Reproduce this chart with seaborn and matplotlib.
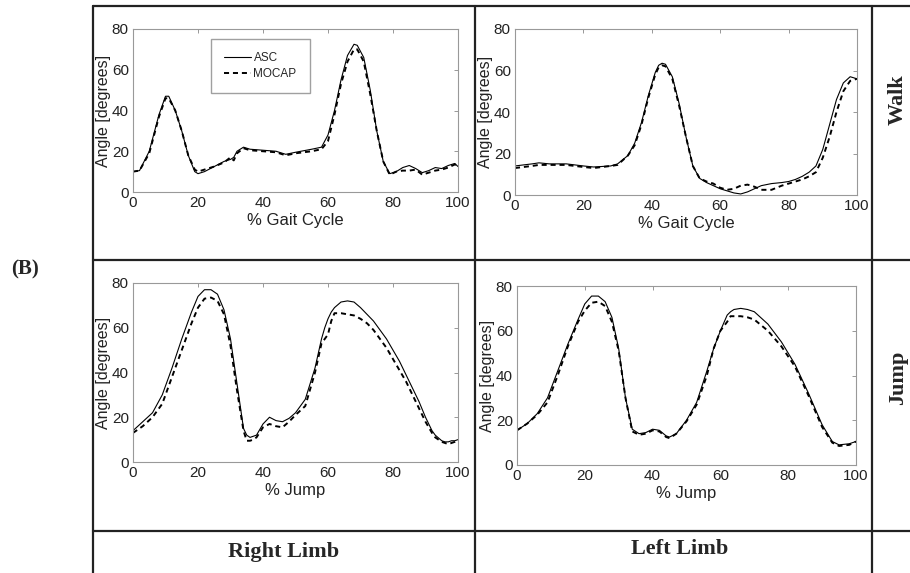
import matplotlib
matplotlib.use('Agg')
import matplotlib.pyplot as plt
import seaborn as sns
import numpy as np
import pandas as pd
from matplotlib.lines import Line2D

sns.set_style('white')
plt.rcParams['font.family'] = ['Liberation Sans Narrow', 'Liberation Sans', 'DejaVu Sans']

# Walk - Right limb
wr_x = [0, 2, 5, 8, 10, 11, 13, 15, 17, 19, 20, 22, 25, 28, 30, 31, 32, 34, 36, 40, 44, 47, 50, 55, 58,
        60, 62, 64, 66, 68, 69, 71, 73, 75, 77, 79, 81, 83, 85, 87, 89, 91, 93, 95, 97, 99, 100]
wr_asc = [10, 10.5, 20, 38, 47, 47, 40, 30, 18, 10, 9, 10, 12.5, 15, 16, 17, 20, 22, 21, 20.5, 20, 18.5, 19.5, 21, 22,
          28, 40, 55, 67, 72.5, 72, 66, 50, 30, 15, 9, 10, 12, 13, 11.5, 9.5, 10.5, 12, 11.5, 13, 14, 12.5]
wr_mocap = [10, 10.5, 19, 37, 46, 46, 40, 30, 18, 11, 10, 11, 12.5, 14.5, 17, 15.5, 19, 21.5, 20.5, 20, 19.5, 18, 19, 20, 21,
            25, 38, 53, 64, 70, 70, 64, 48, 30, 15, 8.5, 10, 10.5, 10.5, 11, 8.5, 9.5, 10.5, 11, 12, 13.5, 13]

# Walk - Left limb
wl_x = [0, 5, 7, 10, 15, 20, 23, 28, 30, 33, 35, 37, 39, 41, 42, 43, 44, 46, 48, 50, 52, 54, 56, 58, 60, 62, 64,
        66, 68, 70, 72, 75, 78, 80, 82, 84, 86, 88, 90, 92, 94, 96, 98, 100]
wl_asc = [14, 15, 15.5, 15, 15, 14, 13.5, 14, 15, 19, 25, 35, 48, 59, 62.5, 63.5, 63, 57, 44, 28, 14, 8, 6, 4.5, 3, 2, 1,
          0.5, 1.5, 3, 4.5, 5.5, 6, 6.5, 7.5, 9, 11, 14, 22, 34, 46, 54, 57, 56]
wl_mocap = [13, 14, 14.5, 14.5, 14.5, 13.5, 13, 14, 14.5, 19, 24, 34, 47, 58, 61.5, 62.5, 62, 56, 43, 28, 14, 8, 6.5, 5.5, 3.5, 2.5, 3,
            4.5, 5, 4, 2.5, 2.5, 4.5, 5.5, 6.5, 7.5, 9, 11, 18, 28, 40, 50, 55, 56]

# Jump - Right limb
jr_x = [0, 3, 6, 9, 12, 15, 18, 20, 22, 24, 26, 28, 30, 32, 34, 35, 36, 37, 38, 40, 42, 44, 46, 48, 50, 53, 56, 58, 59,
        60, 61, 62, 64, 66, 68, 70, 72, 74, 76, 78, 80, 82, 84, 86, 88, 90, 92, 93, 95, 96, 97, 98, 99, 100]
jr_asc = [14, 18, 22, 30, 42, 55, 67, 74, 77, 77, 75, 68, 55, 35, 15, 12, 11, 11.5, 12, 17, 20, 18.5, 18, 19.5, 22, 28, 42, 55, 60,
          64, 67, 69, 71.5, 72, 71.5, 69, 66, 63, 59, 55, 50, 45, 39, 33, 27, 20, 14, 12, 9.5, 9, 9, 9.5, 9.5, 10]
jr_mocap = [13, 16, 20, 26, 38, 50, 62, 69, 73, 73.5, 72, 66, 52, 32, 14, 9.5, 9.5, 10, 11, 15.5, 17, 16, 15.5, 18, 21, 25, 40, 53, 55,
            57, 63, 66.5, 66.5, 66, 65.5, 64, 62, 59, 55, 51, 46, 41, 36, 30, 24, 18, 13, 11, 9, 8.5, 8, 8.5, 9, 10]

# Jump - Left limb
jl_x = [0, 3, 6, 9, 12, 15, 18, 20, 22, 24, 26, 28, 30, 32, 34, 36, 38, 40, 42, 44, 45, 47, 50, 53, 56, 58, 60, 62, 63,
        64, 66, 68, 70, 74, 78, 82, 86, 90, 93, 95, 98, 100]
jl_asc = [15.5, 18.5, 23, 30, 42, 54, 65, 72, 75.5, 75.5, 73, 66, 52, 30, 16, 14, 14.5, 16, 15.5, 13, 12.5, 14, 20, 28, 42, 52, 60, 67, 68.5,
          69.5, 70, 69.5, 68.5, 63, 55, 45, 32, 18, 10.5, 9, 9.5, 10.5]
jl_mocap = [15.5, 18.5, 22.5, 28, 40, 53, 64, 69, 72.5, 73, 71, 64, 51, 30, 15, 13.5, 14, 15.5, 15, 12.5, 12, 14, 19.5, 27, 40, 52, 60, 64, 66.5,
            66.5, 66.5, 66, 65, 60, 53, 44, 31, 17, 10, 8.5, 9, 10.5]

W, H = 910, 573
fig = plt.figure(figsize=(W / 100, H / 100), dpi=100)


def frac(x0, y0, x1, y1):
    # pixel box (top-left origin) -> figure fraction rect
    return [x0 / W, 1 - y1 / H, (x1 - x0) / W, (y1 - y0) / H]


def panel(rect, x, asc, mocap, xlabel, legend=False):
    ax = fig.add_axes(rect)
    df = pd.DataFrame({'x': x, 'ASC': asc, 'MOCAP': mocap})
    sns.lineplot(data=df, x='x', y='ASC', ax=ax, color='black', lw=0.8, label='ASC')
    sns.lineplot(data=df, x='x', y='MOCAP', ax=ax, color='black', lw=1.4, ls=(0, (2.6, 2)), label='MOCAP')
    ax.set_xlim(0, 100)
    ax.set_ylim(0, 80)
    ax.set_xticks([0, 20, 40, 60, 80, 100])
    ax.set_yticks([0, 20, 40, 60, 80])
    ax.tick_params(direction='in', length=3, width=0.6, color='#888888', labelsize=11,
                   top=True, right=True, pad=3, labelcolor='#222222')
    for s in ax.spines.values():
        s.set_color('#999999')
        s.set_linewidth(0.8)
    ax.set_xlabel(xlabel, fontsize=12, labelpad=2, color='#222222')
    ax.set_ylabel('Angle [degrees]', fontsize=11.5, labelpad=0.5, color='#222222')
    if legend:
        ax.legend(loc='upper left', bbox_to_anchor=(0.24, 0.94), fontsize=8.5, frameon=True,
                  fancybox=False, edgecolor='#888888', handlelength=2.3, borderpad=1.1,
                  labelspacing=0.35, handletextpad=0.2, borderaxespad=0)
    else:
        ax.get_legend().remove()
    return ax


panel(frac(133, 29, 458, 192), wr_x, wr_asc, wr_mocap, '% Gait Cycle', legend=True)
panel(frac(515, 29, 857, 195), wl_x, wl_asc, wl_mocap, '% Gait Cycle')
panel(frac(133, 283, 458, 462), jr_x, jr_asc, jr_mocap, '% Jump')
panel(frac(517, 286, 856, 465), jl_x, jl_asc, jl_mocap, '% Jump')

# table grid
def hline(y, x0=93, x1=910):
    fig.add_artist(Line2D([x0 / W, x1 / W], [1 - y / H, 1 - y / H], color='#222222', lw=1.6))


def vline(x, y0=6, y1=573):
    fig.add_artist(Line2D([x / W, x / W], [1 - y0 / H, 1 - y1 / H], color='#222222', lw=1.6))


hline(6)
hline(260)
hline(531)
vline(93)
vline(475)
vline(872)

serif = ['Liberation Serif', 'DejaVu Serif']
fig.text(284 / W, 1 - 552 / H, 'Right Limb', ha='center', va='center', family=serif,
         fontweight='bold', fontsize=16)
fig.text(680 / W, 1 - 549 / H, 'Left Limb', ha='center', va='center', family=serif,
         fontweight='bold', fontsize=16)
fig.text(898 / W, 1 - 100 / H, 'Walk', ha='center', va='center', rotation=90, family=serif,
         fontweight='bold', fontsize=16)
fig.text(898 / W, 1 - 378 / H, 'Jump', ha='center', va='center', rotation=90, family=serif,
         fontweight='bold', fontsize=16)
fig.text(25 / W, 1 - 269 / H, '(B)', ha='center', va='center', family=serif,
         fontweight='bold', fontsize=15)

fig.savefig('out.png', dpi=100)
